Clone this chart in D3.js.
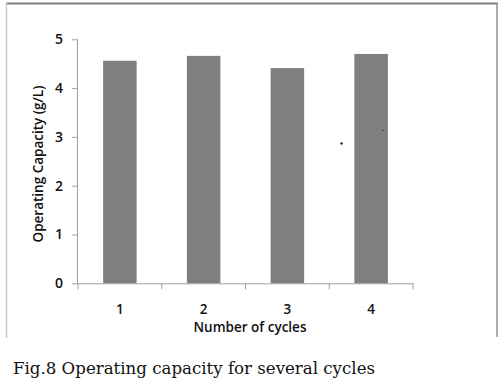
<!DOCTYPE html>
<html><head><meta charset="utf-8">
<script src="https://cdn.jsdelivr.net/npm/d3@7"></script>
<style>body{margin:0;background:#fff}svg{display:block}</style>
</head><body>
<svg id="c" width="500" height="381"></svg>
<script>
const categories = ["1","2","3","4"];
const values = [4.56, 4.66, 4.41, 4.70];
const yTicks = [0,1,2,3,4,5];
const xTitle = "Number of cycles";
const yTitle = "Operating Capacity (g/L)";
const caption = "Fig.8 Operating capacity for several cycles";

const svg = d3.select("#c");
const L = 78, R = 413, T = 39.3, B = 283.3;
const x = d3.scaleBand().domain(categories).range([L, R]).paddingInner(0.6).paddingOuter(0.3);
const y = d3.scaleLinear().domain([0, 5]).range([B, T]);

// frame
svg.append("line").attr("x1",6).attr("x2",498).attr("y1",3.5).attr("y2",3.5).attr("stroke","#808080").attr("stroke-width",2);
svg.append("line").attr("x1",6.5).attr("x2",6.5).attr("y1",3).attr("y2",338).attr("stroke","#c8c8c8").attr("stroke-width",1.5);
svg.append("line").attr("x1",497).attr("x2",497).attr("y1",3).attr("y2",337).attr("stroke","#909090").attr("stroke-width",1.5);

// bars
svg.append("g").selectAll("rect").data(values).join("rect")
  .attr("x",(d,i)=>x(categories[i]))
  .attr("width",x.bandwidth())
  .attr("y",d=>y(d))
  .attr("height",d=>B-y(d))
  .attr("fill","#7f7f7f");

// y axis
const yAxis = svg.append("g").attr("transform",`translate(${L},0)`)
  .call(d3.axisLeft(y).tickValues(yTicks).tickFormat(d3.format("d")).tickSize(6).tickPadding(9));
yAxis.select(".domain").attr("stroke","#a0a0a0").attr("d",`M-0.5,${T}V${B}`);
yAxis.selectAll(".tick line").attr("stroke","#a0a0a0");
yAxis.selectAll("text").attr("font-family","Open Sans").attr("font-weight","600").attr("font-size",14).attr("fill","#111");

// x axis
const xAxis = svg.append("g").attr("transform",`translate(0,${B})`);
xAxis.append("line").attr("x1",L).attr("x2",R).attr("y1",0.5).attr("y2",0.5).attr("stroke","#a0a0a0");
const step = (R-L)/categories.length;
xAxis.selectAll("line.t").data(d3.range(categories.length+1)).join("line").attr("class","t")
  .attr("x1",i=>L+i*step).attr("x2",i=>L+i*step).attr("y1",0).attr("y2",6).attr("stroke","#a0a0a0");
xAxis.selectAll("text").data(categories).join("text")
  .attr("x",d=>x(d)+x.bandwidth()/2).attr("y",31).attr("text-anchor","middle")
  .attr("font-family","Open Sans").attr("font-weight","600").attr("font-size",13.5).attr("fill","#111")
  .text(d=>d);

// titles
svg.append("text").attr("x",250).attr("y",332).attr("text-anchor","middle")
  .attr("font-family","Open Sans").attr("font-weight","600").attr("font-size",13.5).attr("fill","#111")
  .text(xTitle);
svg.append("text").attr("transform","translate(43,164) rotate(-90)").attr("text-anchor","middle")
  .attr("font-family","Open Sans").attr("font-weight","600").attr("font-size",13.5).attr("fill","#111")
  .text(yTitle);

// stray specks
svg.append("circle").attr("cx",341.5).attr("cy",143.5).attr("r",1.2).attr("fill","#222");
svg.append("line").attr("x1",382).attr("x2",384).attr("y1",130.5).attr("y2",130.5).attr("stroke","#444");

// caption
svg.append("text").attr("x",13).attr("y",374)
  .attr("font-family","DejaVu Serif").attr("font-size",17.5).attr("fill","#111")
  .attr("textLength",362).attr("lengthAdjust","spacingAndGlyphs")
  .text(caption);
</script>
</body></html>
